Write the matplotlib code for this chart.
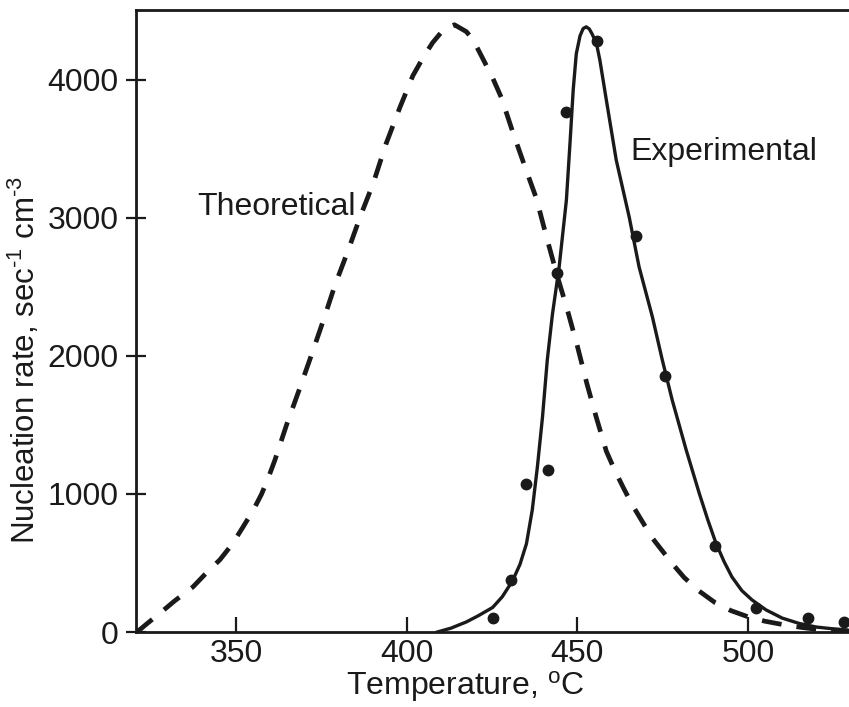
import matplotlib
matplotlib.use("Agg")
import matplotlib.pyplot as plt
from matplotlib import font_manager
from matplotlib.ft2font import FT2Font

plt.rcParams['font.family'] = ['Liberation Sans', 'DejaVu Sans']
plt.rcParams['mathtext.fontset'] = 'custom'
plt.rcParams['mathtext.rm'] = 'Liberation Sans'
plt.rcParams['mathtext.it'] = 'Liberation Sans'
plt.rcParams['mathtext.bf'] = 'Liberation Sans'

# pick a hyphen glyph available in Liberation Sans (mathtext turns '-' into a minus)
_fp = font_manager.findfont('Liberation Sans')
_ft = FT2Font(_fp)
HY = '\u2010'
for c in ['\u2010', '\u2011', '\u00ad']:
    if _ft.get_char_index(ord(c)) != 0:
        HY = c
        break

# Theoretical curve (dashed)
theo_T = [321, 324, 327.8, 332, 337.4, 341, 345.3, 349, 352.1, 355, 357.5, 359.5, 361.4,
          364.8, 368.5, 372.1, 375.8, 379.0, 382.9, 386.4, 390.2, 394, 398, 401.8, 405,
          407.6, 410.8, 414, 417.5, 419.5, 422.2, 425.2, 427.8, 431, 434.5, 438, 441, 444,
          447, 450, 452.8, 455.5, 458.5, 461, 463.5, 466, 468.8, 472, 475, 478, 481.3,
          485.5, 490.3, 495, 500.6, 505, 511, 516, 520, 525, 530]
theo_rate = [0, 62, 138, 225, 327, 420, 524, 640, 763, 880, 1000, 1120, 1246,
             1500, 1754, 2007, 2273, 2514, 2768, 3010, 3251, 3540, 3800, 4030, 4170,
             4270, 4365, 4400, 4350, 4290, 4160, 4015, 3869, 3629, 3382, 3142, 2860, 2590,
             2342, 2073, 1800, 1560, 1310, 1170, 1045, 925, 810, 680, 585, 490, 395,
             300, 214, 155, 105, 78, 50, 32, 20, 10, 4]

# Experimental fitted curve (solid)
exp_T = [409, 413, 417.5, 421, 425.2, 428, 431, 433.2, 435.1, 436.8, 438.3, 439.8,
         441.2, 442.7, 444.7, 446.8, 447.9, 448.8, 449.7, 450.8, 451.7, 452.6, 453.5,
         454.3, 455.6, 456.6, 458.5, 461.4, 465.2, 468.1, 472, 474.9, 477.8, 481.9,
         485.7, 488.2, 490.6, 493, 495.3, 498.2, 501.2, 505.3, 510, 515, 520, 524.5, 529]
exp_rate = [0, 28, 73, 118, 178, 255, 370, 490, 640, 884, 1196, 1558,
            1971, 2300, 2650, 3130, 3560, 3930, 4190, 4320, 4372, 4385, 4370,
            4335, 4265, 4145, 3855, 3420, 3007, 2645, 2283, 1971, 1681, 1319,
            1007, 815, 645, 510, 399, 300, 232, 160, 101, 62, 36, 24, 15]

# Measured data points
pts_T = [425.4, 430.7, 435.1, 441.5, 444.0, 446.8, 455.8, 467.3, 475.7, 490.4, 502.4, 517.5, 528]
pts_rate = [102, 378, 1069, 1171, 2600, 3770, 4280, 2868, 1855, 625, 175, 102, 70]

x_ticks = [350, 400, 450, 500]
y_ticks = [0, 1000, 2000, 3000, 4000]

fig = plt.figure(figsize=(8.49, 7.07), dpi=100)
ax = fig.add_axes([136/849, 1 - 632/707, 1 - 136/849, (632 - 10)/707])

ax.plot(theo_T, theo_rate, color='#1a1a1a', lw=3.4, dashes=(4.2, 3.2),
        dash_capstyle='butt', dash_joinstyle='round')
ax.plot(exp_T, exp_rate, color='#1a1a1a', lw=2.4, solid_joinstyle='round')
ax.plot(pts_T, pts_rate, 'o', color='#1a1a1a', ms=7.5, clip_on=False, zorder=3)

ax.set_xlim(320.7, 529.6)
ax.set_ylim(0, 4507)
ax.set_xticks(x_ticks)
ax.set_yticks(y_ticks)
ax.tick_params(axis='x', direction='in', length=11, width=1.6, labelsize=23, pad=5,
               colors='#1a1a1a')
ax.tick_params(axis='y', direction='inout', length=14.4, width=1.6, labelsize=23, pad=5.5,
               colors='#1a1a1a')
for s in ['left', 'bottom', 'top']:
    ax.spines[s].set_linewidth(2.0)
    ax.spines[s].set_color('#1a1a1a')
ax.spines['right'].set_visible(False)

ax.set_xlabel(r'Temperature, $^{\mathregular{o}}$C', fontsize=23, color='#1a1a1a')
ax.xaxis.set_label_coords((465 - 136) / (849 - 136), -(669 - 632) / 622)
ax.set_ylabel('Nucleation rate, sec$^{\\mathregular{' + HY + '1}}$ cm$^{\\mathregular{' + HY + '3}}$',
              fontsize=22.5, color='#1a1a1a')
ax.yaxis.set_label_coords(-(136 - 42) / (849 - 136), (632 - 360) / 622)

ax.text(338.6, 3080, 'Theoretical', fontsize=23, va='center', ha='left', color='#1a1a1a')
ax.text(465.4, 3478, 'Experimental', fontsize=23, va='center', ha='left', color='#1a1a1a')

fig.savefig('out.png', dpi=100)
